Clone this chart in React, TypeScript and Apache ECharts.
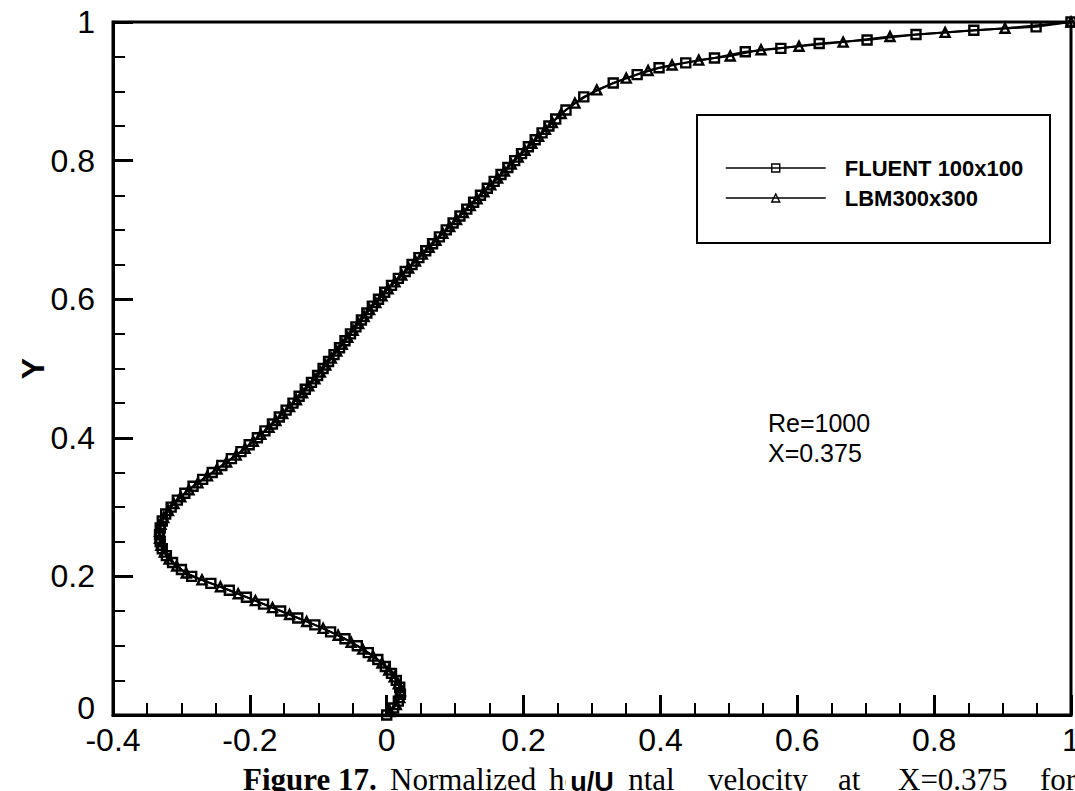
import React, { useEffect, useRef } from "react";
import * as echarts from "echarts";

// ---- axis ticks ----
const X_TICKS = [-0.4, -0.2, 0, 0.2, 0.4, 0.6, 0.8, 1];
const Y_TICKS = [0, 0.2, 0.4, 0.6, 0.8, 1];

// ---- series names ----
const SERIES_NAMES = ["FLUENT 100x100", "LBM300x300"];

// ---- FLUENT 100x100 (squares): Y position and u/U ----
const fluentY = [
  0.0, 0.01, 0.02, 0.03, 0.04, 0.05, 0.06, 0.07, 0.08, 0.09,
  0.1, 0.11, 0.12, 0.13, 0.14, 0.15, 0.16, 0.17, 0.18, 0.19,
  0.2, 0.21, 0.22, 0.23, 0.24, 0.25, 0.26, 0.27, 0.28, 0.29,
  0.3, 0.31, 0.32, 0.33, 0.34, 0.35, 0.36, 0.37, 0.38, 0.39,
  0.4, 0.41, 0.42, 0.43, 0.44, 0.45, 0.46, 0.47, 0.48, 0.49,
  0.5, 0.51, 0.52, 0.53, 0.54, 0.55, 0.56, 0.57, 0.58, 0.59,
  0.6, 0.61, 0.62, 0.63, 0.64, 0.65, 0.66, 0.67, 0.68, 0.69,
  0.7, 0.71, 0.72, 0.73, 0.74, 0.75, 0.76, 0.77, 0.78, 0.79,
  0.8, 0.81, 0.82, 0.83, 0.84, 0.85, 0.86,
  0.873, 0.892, 0.912, 0.924, 0.934, 0.941, 0.948, 0.957, 0.962, 0.969,
  0.974, 0.982, 0.988, 0.993, 1.0,
];
const fluentU = [
  0.0, 0.01, 0.017, 0.02, 0.019, 0.014, 0.007, -0.002, -0.013, -0.027,
  -0.043, -0.061, -0.082, -0.105, -0.13, -0.155, -0.18, -0.205, -0.23, -0.257,
  -0.285, -0.3, -0.313, -0.322, -0.328, -0.331, -0.332, -0.331, -0.328, -0.323,
  -0.315, -0.306, -0.295, -0.283, -0.269, -0.255, -0.241, -0.227, -0.213, -0.201,
  -0.189, -0.178, -0.167, -0.157, -0.147, -0.137, -0.128, -0.119, -0.11, -0.101,
  -0.093, -0.085, -0.077, -0.069, -0.061, -0.053, -0.045, -0.037, -0.029, -0.021,
  -0.012, -0.003, 0.007, 0.017, 0.027, 0.037, 0.047, 0.057, 0.067, 0.077,
  0.087, 0.097, 0.107, 0.117, 0.127, 0.137, 0.147, 0.157, 0.167, 0.177,
  0.187, 0.197, 0.207, 0.217, 0.227, 0.237, 0.247,
  0.262, 0.288, 0.331, 0.366, 0.398, 0.437, 0.479, 0.524, 0.576, 0.632,
  0.702, 0.7735, 0.858, 0.949, 1.0,
];

// ---- LBM 300x300 (triangles): Y position and u/U ----
const lbmY = [
  0.005, 0.015, 0.025, 0.035, 0.045, 0.055, 0.065, 0.075, 0.085, 0.095,
  0.105, 0.115, 0.125, 0.135, 0.145, 0.155, 0.165, 0.175, 0.185, 0.195,
  0.205, 0.215, 0.225, 0.235, 0.245, 0.255, 0.265, 0.275, 0.285, 0.295,
  0.305, 0.315, 0.325, 0.335, 0.345, 0.355, 0.365, 0.375, 0.385, 0.395,
  0.405, 0.415, 0.425, 0.435, 0.445, 0.455, 0.465, 0.475, 0.485, 0.495,
  0.505, 0.515, 0.525, 0.535, 0.545, 0.555, 0.565, 0.575, 0.585, 0.595,
  0.605, 0.615, 0.625, 0.635, 0.645, 0.655, 0.665, 0.675, 0.685, 0.695,
  0.705, 0.715, 0.725, 0.735, 0.745, 0.755, 0.765, 0.775, 0.785, 0.795,
  0.805, 0.815, 0.825, 0.835, 0.845, 0.855,
  0.868, 0.883, 0.902, 0.919, 0.93, 0.938, 0.945, 0.951, 0.96, 0.965,
  0.971, 0.979, 0.985, 0.991, 1.0,
];
const lbmU = [
  0.005, 0.014, 0.019, 0.02, 0.017, 0.011, 0.003, -0.007, -0.02, -0.035,
  -0.052, -0.071, -0.093, -0.117, -0.142, -0.167, -0.192, -0.217, -0.243, -0.27,
  -0.293, -0.307, -0.318, -0.325, -0.33, -0.332, -0.332, -0.33, -0.326, -0.319,
  -0.311, -0.301, -0.289, -0.276, -0.262, -0.248, -0.234, -0.22, -0.207, -0.195,
  -0.184, -0.172, -0.162, -0.152, -0.142, -0.132, -0.123, -0.114, -0.105, -0.097,
  -0.089, -0.081, -0.073, -0.065, -0.057, -0.049, -0.041, -0.033, -0.025, -0.016,
  -0.007, 0.002, 0.012, 0.022, 0.032, 0.042, 0.052, 0.062, 0.072, 0.082,
  0.092, 0.102, 0.112, 0.122, 0.132, 0.142, 0.152, 0.162, 0.172, 0.182,
  0.192, 0.202, 0.212, 0.222, 0.232, 0.242,
  0.255, 0.275, 0.307, 0.35, 0.382, 0.417, 0.456, 0.502, 0.547, 0.6025,
  0.667, 0.7355, 0.816, 0.9035, 1.0,
];

// ---- texts ----
const ANNOTATION_LINES = ["Re=1000", "X=0.375"];
const CAPTION_BOLD = "Figure 17.";
const CAPTION_WORDS = ["Normalized", "horizontal", "velocity", "at", "X=0.375", "for"];
const CAPTION_WORD_X = [390, 549, 708, 838, 898, 1040];

const SANS = "'Liberation Sans', Arial, Helvetica, sans-serif";
const SERIF = "'Liberation Serif', 'Times New Roman', serif";

const W = 1075;
const H = 791;

export default function App() {
  const ref = useRef<HTMLDivElement>(null);

  useEffect(() => {
    if (!ref.current) return;
    const chart = echarts.init(ref.current, undefined, { renderer: "svg", width: W, height: H });

    const fmt = (v: number) => String(Number(v.toFixed(2)));

    const axisCommon = {
      type: "value" as const,
      splitLine: { show: false },
      axisLine: { show: true, onZero: false, lineStyle: { color: "#000", width: 3 } },
      axisTick: { show: true, inside: true, length: 20, lineStyle: { color: "#000", width: 3 } },
      minorTick: { show: true, splitNumber: 4, length: 12, lineStyle: { color: "#000", width: 2 } },
      axisLabel: {
        color: "#000",
        fontFamily: SANS,
        fontSize: 32,
        formatter: fmt,
      },
      nameMoveOverlap: false,
      z: 5,
    };

    const fmtSeries = (name: string, xs: number[], ys: number[], symbol: string) => ({
      name,
      type: "line" as const,
      data: xs.map((u, i) => [u, ys[i]]),
      symbol,
      symbolSize: 9,
      showAllSymbol: true,
      clip: false,
      silent: true,
      lineStyle: { color: "#000", width: 2 },
      itemStyle: { color: "rgba(255,255,255,0)", borderColor: "#000", borderWidth: 2.4 },
      emphasis: { disabled: true },
    });

    const captionElems: any[] = [
      {
        type: "text",
        x: 243,
        y: 795,
        z: 1,
        style: {
          text: CAPTION_BOLD,
          fontFamily: SERIF,
          fontWeight: "bold",
          fontSize: 31,
          fill: "#000",
          verticalAlign: "bottom",
        },
      },
      ...CAPTION_WORDS.map((w, i) => ({
        type: "text",
        x: CAPTION_WORD_X[i],
        y: 795,
        z: 1,
        style: {
          text: w,
          fontFamily: SERIF,
          fontSize: 31,
          fill: "#000",
          verticalAlign: "bottom",
        },
      })),
      {
        // white patch behind the axis title, as in the reference
        type: "rect",
        shape: { x: 566, y: 766, width: 62, height: 30 },
        style: { fill: "#fff" },
        z: 2,
      },
    ];

    chart.setOption({
      animation: false,
      backgroundColor: "#fff",
      grid: {
        left: 113,
        right: 4,
        top: 22,
        bottom: 76,
        show: true,
        borderColor: "#000",
        borderWidth: 3,
        containLabel: false,
        outerBoundsMode: "none",
      },
      xAxis: {
        ...axisCommon,
        min: X_TICKS[0],
        max: X_TICKS[X_TICKS.length - 1],
        interval: X_TICKS[1] - X_TICKS[0],
        axisLabel: { ...axisCommon.axisLabel, margin: 9 },
        name: "u/U",
        nameLocation: "middle",
        nameGap: 53,
        nameTextStyle: {
          color: "#000",
          fontFamily: SANS,
          fontWeight: "bold",
          fontSize: 27,
        },
      },
      yAxis: {
        ...axisCommon,
        min: Y_TICKS[0],
        max: Y_TICKS[Y_TICKS.length - 1],
        interval: Y_TICKS[1] - Y_TICKS[0],
        axisLabel: {
          ...axisCommon.axisLabel,
          margin: 18,
          formatter: (v: number) => (v === Y_TICKS[0] ? `{lo|${fmt(v)}}` : fmt(v)),
          rich: {
            lo: { fontFamily: SANS, fontSize: 32, color: "#000", padding: [0, 0, 14, 0] },
          },
        },
        name: "Y",
        nameLocation: "middle",
        nameGap: 64,
        nameTextStyle: {
          color: "#000",
          fontFamily: SANS,
          fontWeight: "bold",
          fontSize: 32,
        },
      },
      legend: {
        show: true,
        orient: "vertical",
        left: 725,
        top: 156,
        padding: 0,
        itemGap: 6,
        itemWidth: 100,
        itemHeight: 10,
        selectedMode: false,
        data: SERIES_NAMES,
        lineStyle: { color: "#000", width: 1.5 },
        itemStyle: { color: "rgba(255,255,255,0)", borderColor: "#000", borderWidth: 1.4 },
        textStyle: {
          color: "#000",
          fontFamily: SANS,
          fontWeight: "bold",
          fontSize: 22,
          lineHeight: 24,
          padding: [0, 0, 0, 14],
        },
      },
      graphic: [
        {
          type: "rect",
          shape: { x: 697, y: 115, width: 353, height: 128 },
          style: { fill: "none", stroke: "#000", lineWidth: 2 },
          z: 3,
        },
        {
          type: "text",
          x: 768,
          y: 408,
          z: 3,
          style: {
            text: ANNOTATION_LINES.join("\n"),
            fontFamily: SANS,
            fontSize: 25,
            lineHeight: 30,
            fill: "#000",
          },
        },
        ...captionElems,
      ],
      series: [
        fmtSeries(SERIES_NAMES[0], fluentU, fluentY, "rect"),
        fmtSeries(SERIES_NAMES[1], lbmU, lbmY, "triangle"),
      ],
    });

    return () => chart.dispose();
  }, []);

  return (
    <div
      ref={ref}
      style={{ position: "absolute", left: 0, top: 0, width: W, height: H, background: "#fff" }}
    />
  );
}
